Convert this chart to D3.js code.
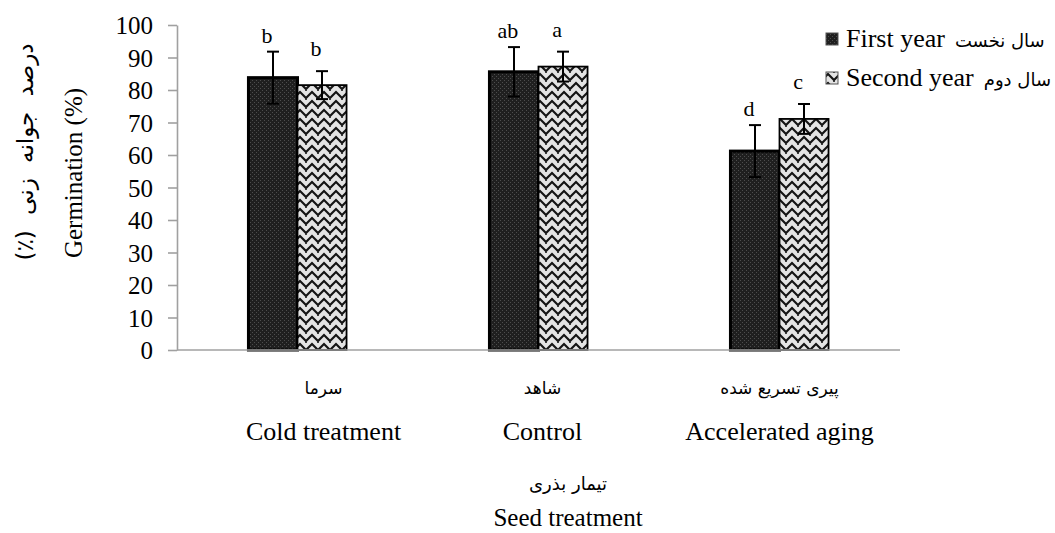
<!DOCTYPE html>
<html>
<head>
<meta charset="utf-8">
<script src="https://cdn.jsdelivr.net/npm/d3@7"></script>
<style>
  body { margin: 0; background: #fff; }
  svg { display: block; }
  svg text.en { font-family: 'Liberation Serif', serif !important; }
  svg text.fa { font-family: 'DejaVu Sans', sans-serif !important; }
</style>
</head>
<body>
<svg id="chart" width="1055" height="533"></svg>
<script>
const categories = ["Cold treatment", "Control", "Accelerated aging"];
const categoriesFa = ["سرما", "شاهد", "پیری تسریع شده"];
const series = ["First year", "Second year"];
const seriesFa = ["سال نخست", "سال دوم"];
const firstYear = [83.8, 85.6, 61.2];
const secondYear = [81.5, 87.2, 71.1];
const firstErr = [8, 7.6, 8];
const secondErr = [4.3, 4.6, 4.6];
const firstLetters = ["b", "ab", "d"];
const secondLetters = ["b", "a", "c"];
const yTicks = [0, 10, 20, 30, 40, 50, 60, 70, 80, 90, 100];

const svg = d3.select("#chart");

// fill patterns: dark dotted / light zigzag weave
const defs = svg.append("defs");
const dark = defs.append("pattern").attr("id", "pDark")
  .attr("patternUnits", "userSpaceOnUse").attr("width", 4).attr("height", 4);
dark.append("rect").attr("width", 4).attr("height", 4).attr("fill", "#1f1f1f");
dark.append("rect").attr("x", 0).attr("y", 0).attr("width", 1).attr("height", 1).attr("fill", "#4d4d4d");
dark.append("rect").attr("x", 2).attr("y", 2).attr("width", 1).attr("height", 1).attr("fill", "#4d4d4d");

const weave = defs.append("pattern").attr("id", "pWeave")
  .attr("patternUnits", "userSpaceOnUse").attr("width", 12).attr("height", 9);
weave.append("rect").attr("width", 12).attr("height", 9).attr("fill", "#e4e4e4");
weave.append("path")
  .attr("d", "M-3,5 L0,2 L6,8 L12,2 L15,5")
  .attr("fill", "none").attr("stroke", "#151515").attr("stroke-width", 2.2);
weave.append("path")
  .attr("d", "M6,-1 L6,1")
  .attr("fill", "none").attr("stroke", "#151515").attr("stroke-width", 1.6);

const x = d3.scaleBand()
  .domain(categories)
  .range([177, 900]);

const groupW = x.bandwidth() * 0.407;
const xs = d3.scaleBand()
  .domain(series)
  .range([0, groupW]);

const y = d3.scaleLinear()
  .domain([0, 100])
  .range([350, 25]);

const rows = categories.map((c, i) => [
  { cat: c, s: series[0], v: firstYear[i], e: firstErr[i], l: firstLetters[i], fill: "url(#pDark)", sw: 3, gap: 9 },
  { cat: c, s: series[1], v: secondYear[i], e: secondErr[i], l: secondLetters[i], fill: "url(#pWeave)", sw: 1.8, gap: 15 }
]).flat();

const bx = d => x(d.cat) + (x.bandwidth() - groupW) / 2 + xs(d.s);

// axes
const yAxis = svg.append("g")
  .attr("transform", "translate(177,0)")
  .call(d3.axisLeft(y).tickValues(yTicks).tickSize(9).tickSizeOuter(0).tickPadding(15))
  .attr("font-family", null);
yAxis.select(".domain").attr("stroke", "#a0a0a0").attr("stroke-width", 1.6);
yAxis.selectAll(".tick line").attr("stroke", "#a0a0a0").attr("stroke-width", 1.6);
yAxis.selectAll(".tick text")
  .attr("class", "en")
  .style("font-size", "25px")
  .attr("fill", "#000")
  .attr("dy", "0.34em");

// bars
svg.append("g")
  .selectAll("rect")
  .data(rows)
  .join("rect")
  .attr("x", d => bx(d))
  .attr("y", d => y(d.v))
  .attr("width", xs.bandwidth())
  .attr("height", d => y(0) - y(d.v))
  .attr("fill", d => d.fill)
  .attr("stroke", "#000")
  .attr("stroke-width", d => d.sw);

svg.append("line")
  .attr("x1", 177).attr("x2", 900)
  .attr("y1", y(0)).attr("y2", y(0))
  .attr("stroke", "#a0a0a0").attr("stroke-width", 1.6);

// error bars
const err = svg.append("g").attr("stroke", "#000").attr("stroke-width", 2);
rows.forEach(d => {
  const cx = bx(d) + xs.bandwidth() / 2;
  err.append("line").attr("x1", cx).attr("x2", cx).attr("y1", y(d.v + d.e)).attr("y2", y(d.v - d.e));
  err.append("line").attr("x1", cx - 6).attr("x2", cx + 6).attr("y1", y(d.v + d.e)).attr("y2", y(d.v + d.e));
  err.append("line").attr("x1", cx - 6).attr("x2", cx + 6).attr("y1", y(d.v - d.e)).attr("y2", y(d.v - d.e));
});

// significance letters
svg.append("g")
  .selectAll("text")
  .data(rows)
  .join("text")
  .attr("class", "en")
  .style("font-size", "22px")
  .attr("x", d => bx(d) + xs.bandwidth() / 2 - 6)
  .attr("y", d => y(d.v + d.e) - d.gap)
  .attr("text-anchor", "middle")
  .text(d => d.l);

// category labels
const labelShift = [26, 4, 0];
const cats = svg.append("g");
categories.forEach((c, i) => {
  const cx = x(c) + x.bandwidth() / 2 + labelShift[i];
  cats.append("text").attr("class", "fa")
    .style("font-size", "17px")
    .attr("x", cx).attr("y", 394)
    .attr("text-anchor", "middle").attr("direction", "rtl")
    .text(categoriesFa[i]);
  cats.append("text").attr("class", "en")
    .style("font-size", "26px")
    .attr("x", cx).attr("y", 440)
    .attr("text-anchor", "middle")
    .text(c);
});

// x title
svg.append("text").attr("class", "fa")
  .style("font-size", "18px")
  .attr("x", 568).attr("y", 490)
  .attr("text-anchor", "middle").attr("direction", "rtl")
  .text("تیمار بذری");
svg.append("text").attr("class", "en")
  .style("font-size", "25px")
  .attr("x", 568).attr("y", 526)
  .attr("text-anchor", "middle")
  .text("Seed treatment");

// y title
svg.append("text").attr("class", "en")
  .style("font-size", "25px")
  .attr("transform", "translate(82,173) rotate(-90)")
  .attr("text-anchor", "middle")
  .text("Germination  (%)");
svg.append("text").attr("class", "fa")
  .style("font-size", "23px").style("word-spacing", "8px")
  .attr("transform", "translate(33,152) rotate(-90)")
  .attr("text-anchor", "middle").attr("direction", "rtl")
  .text("درصد جوانه زنی (٪)");

// legend
const legend = svg.append("g");
series.forEach((s, i) => {
  const ly = 47 + i * 39;
  legend.append("rect")
    .attr("x", 826).attr("y", ly - 14)
    .attr("width", 12).attr("height", 12)
    .attr("fill", i === 0 ? "url(#pDark)" : "url(#pWeave)")
    .attr("stroke", "#555").attr("stroke-width", 1);
  const t = legend.append("text").attr("class", "en")
    .style("font-size", "26px")
    .attr("x", 846).attr("y", ly)
    .text(s);
  const w = t.node().getComputedTextLength();
  legend.append("text").attr("class", "fa")
    .style("font-size", "18px")
    .attr("x", 846 + w + 10).attr("y", ly)
    .attr("direction", "ltr")
    .text(seriesFa[i]);
});
</script>
</body>
</html>
